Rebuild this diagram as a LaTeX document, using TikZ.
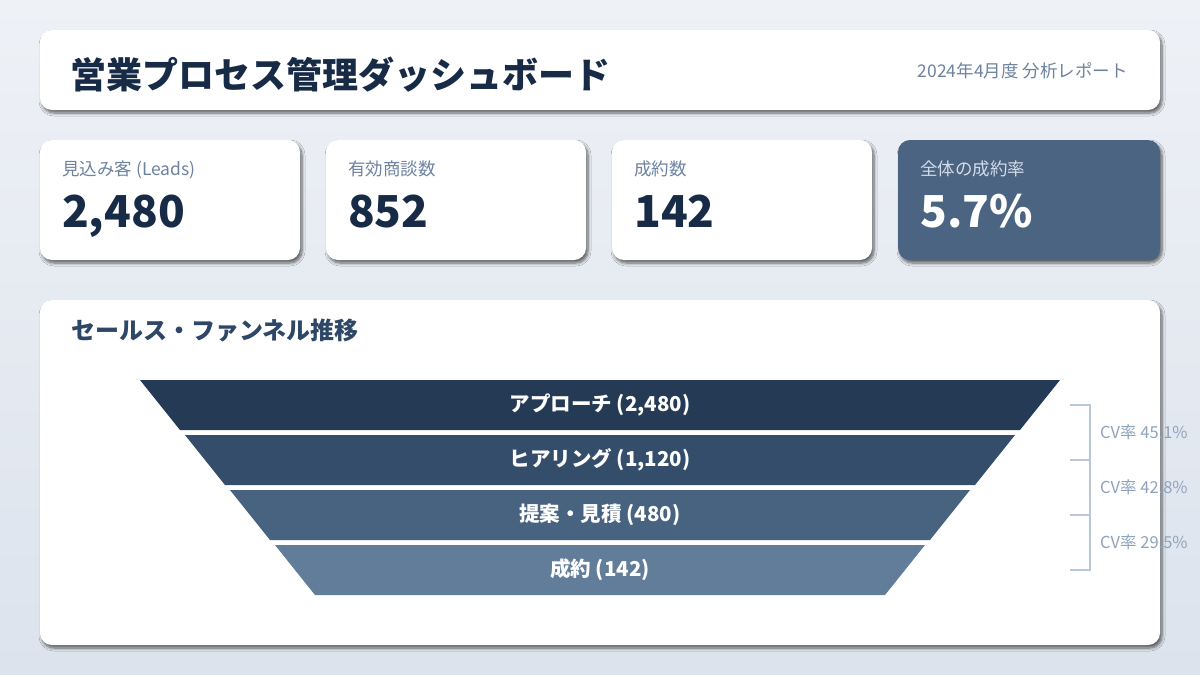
\documentclass[tikz,border=0pt]{standalone}
\usepackage{fontspec}
\setmainfont{Noto Sans CJK JP}
\usetikzlibrary{positioning,shadows.blur}
\definecolor{bgtop}{HTML}{EEF1F6}
\definecolor{bgbot}{HTML}{DCE3ED}
\definecolor{navy}{HTML}{172B46}
\definecolor{subgray}{HTML}{6E83A0}
\definecolor{accent}{HTML}{4A6481}
\definecolor{accentlabel}{HTML}{D3DCE8}
\definecolor{paneltitle}{HTML}{2E4766}
\definecolor{stageA}{HTML}{243A55}
\definecolor{stageB}{HTML}{334D6A}
\definecolor{stageC}{HTML}{48637F}
\definecolor{stageD}{HTML}{627D99}
\definecolor{bracketcol}{HTML}{B9C8D9}
\definecolor{cvtext}{HTML}{8FA3BB}

\begin{document}
\begin{tikzpicture}[x=1pt,y=-1pt,
 panelbox/.style={fill=white,rounded corners=12pt,inner sep=0pt,outer sep=0pt,
  blur shadow={shadow xshift=2pt,shadow yshift=-3pt,shadow blur steps=6,shadow blur radius=3pt,shadow opacity=60}},
 card/.style={panelbox,minimum width=260pt,minimum height=120pt},
 kpilabel/.style={anchor=base west,inner sep=0pt,text=subgray,font=\fontsize{17.5}{20}\selectfont},
 kpivalue/.style={anchor=base west,inner sep=0pt,text=navy,font=\fontsize{44}{50}\selectfont\bfseries},
 stagelabel/.style={inner sep=0pt,text=white,font=\fontsize{20.5}{24}\selectfont\bfseries},
 bracket/.style={draw=bracketcol,line width=1.5pt},
 cvlabel/.style={anchor=west,inner sep=0pt,text=cvtext,font=\fontsize{16.5}{19}\selectfont}]
 \useasboundingbox (0,0) rectangle (1200,675);
 \shade[top color=bgtop,bottom color=bgbot] (0,0) rectangle (1200,675);

 % header
 \node[panelbox,minimum width=1120pt,minimum height=80pt] (header) at (600,70) {};
 \node[anchor=base west,inner sep=0pt,text=navy,font=\fontsize{36}{42}\selectfont\bfseries]
  (title) at ([xshift=30pt,yshift=-58pt]header.north west) {営業プロセス管理ダッシュボード};
 \node[anchor=base east,inner sep=0pt,text=subgray,font=\fontsize{17.5}{20}\selectfont]
  (period) at ([xshift=-32pt,yshift=-47pt]header.north east) {2024年4月度 分析レポート};

 % kpi cards
 \node[card] (leads) at (170,200) {};
 \node[card,right=26pt of leads] (deals) {};
 \node[card,right=26pt of deals] (won) {};
 \node[card,fill=accent,minimum width=262pt,right=26pt of won] (rate) {};
 \foreach \c/\l/\v in {leads/見込み客 (Leads)/{2,480},deals/有効商談数/852,won/成約数/142}{
  \node[kpilabel] (\c-label) at ([xshift=22pt,yshift=-35pt]\c.north west) {\l};
  \node[kpivalue] (\c-value) at ([xshift=22pt,yshift=-87pt]\c.north west) {\v};
 }
 \node[kpilabel,text=accentlabel] (rate-label) at ([xshift=22pt,yshift=-35pt]rate.north west) {全体の成約率};
 \node[kpivalue,text=white] (rate-value) at ([xshift=22pt,yshift=-87pt]rate.north west) {5.7\%};

 % funnel panel
 \node[panelbox,minimum width=1120pt,minimum height=345pt] (panel) at (600,472.5) {};
 \node[anchor=base west,inner sep=0pt,text=paneltitle,font=\fontsize{24}{28}\selectfont\bfseries]
  (funnel-title) at ([xshift=31pt,yshift=-39pt]panel.north west) {セールス・ファンネル推移};

 \foreach \i/\col/\txt in {0/stageA/{アプローチ (2,480)},1/stageB/{ヒアリング (1,120)},2/stageC/{提案・見積 (480)},3/stageD/{成約 (142)}}{
  \pgfmathsetmacro\top{380+55*\i}
  \pgfmathsetmacro\lft{140+45*\i}
  \pgfmathsetmacro\rgt{1060-45*\i}
  \fill[\col] (\lft,\top) -- (\rgt,\top) -- (\rgt-40,\top+50) -- (\lft+40,\top+50) -- cycle;
  \node[stagelabel] (stage\i) at (600,\top+25) {\txt};
 }

 % conversion brackets
 \coordinate (tick) at (1070,0);
 \coordinate (brk) at (1090,0);
 \coordinate (cvx) at (1100,0);
 \draw[bracket] (stage0.center -| tick) -- (stage0.center -| brk) -- (stage3.center -| brk) -- (stage3.center -| tick);
 \draw[bracket] (stage1.center -| tick) -- (stage1.center -| brk);
 \draw[bracket] (stage2.center -| tick) -- (stage2.center -| brk);
 \path (stage0.center) -- (stage1.center) coordinate[pos=.5] (m01);
 \path (stage1.center) -- (stage2.center) coordinate[pos=.5] (m12);
 \path (stage2.center) -- (stage3.center) coordinate[pos=.5] (m23);
 \node[cvlabel] (cv1) at (m01 -| cvx) {CV率 45.1\%};
 \node[cvlabel] (cv2) at (m12 -| cvx) {CV率 42.8\%};
 \node[cvlabel] (cv3) at (m23 -| cvx) {CV率 29.5\%};
\end{tikzpicture}
\end{document}
